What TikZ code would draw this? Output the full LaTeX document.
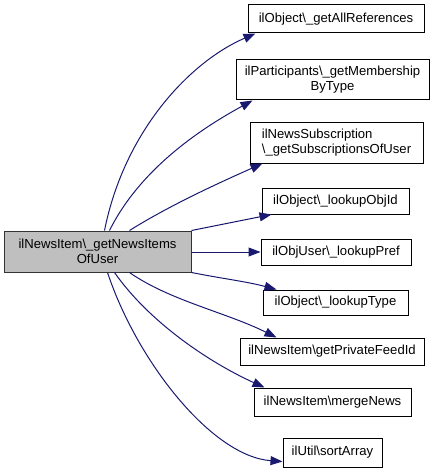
\documentclass[tikz,border=0pt]{standalone}
\usepackage{fontspec}
\setmainfont{Liberation Sans}
\usetikzlibrary{arrows.meta}
\definecolor{edgeblue}{HTML}{191970}
\definecolor{mainfill}{HTML}{BFBFBF}
\newcommand{\bs}{\textbackslash}
\begin{document}
\begin{tikzpicture}[x=1pt,y=-1pt,
  box/.style={draw=black,line width=1pt,inner sep=2pt,font=\fontsize{13.1}{15}\selectfont,align=center},
  edge/.style={draw=edgeblue,line width=1pt,-{Triangle[length=12pt,width=9pt]}}]
\useasboundingbox (0,0) rectangle (440,473);
\node[box,fill=mainfill,draw=black!80,minimum width=187pt,minimum height=41pt] (main) at (97.5,251.5) {ilNewsItem\bs\_getNewsItems\\OfUser};
\node[box,minimum width=176pt,minimum height=28pt] (t1) at (336,19) {ilObject\bs\_getAllReferences};
\node[box,minimum width=193pt,minimum height=40pt] (t2) at (332.5,80) {ilParticipants\bs\_getMembership\\ByType};
\node[box,align=left,minimum width=173pt,minimum height=40pt] (t3) at (336.5,143) {ilNewsSubscription\\\bs\_getSubscriptionsOfUser};
\node[box,minimum width=147pt,minimum height=26pt] (t4) at (335.5,201) {ilObject\bs\_lookupObjId};
\node[box,minimum width=150pt,minimum height=26pt] (t5) at (336,252) {ilObjUser\bs\_lookupPref};
\node[box,minimum width=145pt,minimum height=25pt] (t6) at (335.5,302.5) {ilObject\bs\_lookupType};
\node[box,minimum width=184pt,minimum height=27pt] (t7) at (332,351.5) {ilNewsItem\bs getPrivateFeedId};
\node[box,minimum width=157pt,minimum height=28pt] (t8) at (332.5,402) {ilNewsItem\bs mergeNews};
\node[box,minimum width=99pt,minimum height=29pt] (t9) at (332.5,452.5) {ilUtil\bs sortArray};
% edges
\draw[edge] ([xshift=101pt]main.north west) .. controls +(20,-100) and +(-65,28) .. ([xshift=8pt]t1.south west);
\draw[edge] ([xshift=106pt]main.north west) .. controls +(30,-60) and +(-55,30) .. ([xshift=17pt]t2.south west);
\draw[edge] ([xshift=126pt]main.north west) .. controls +(40,-25) and +(-45,20) .. ([xshift=13pt]t3.south west);
\draw[edge] (main.north east) .. controls +(30,-6) and +(-30,6) .. ([xshift=10pt]t4.south west);
\draw[edge] (main.east |- t5.west) -- (t5.west);
\draw[edge] (main.south east) .. controls +(30,6) and +(-30,-8) .. ([xshift=14pt]t6.north west);
\draw[edge] ([xshift=126pt]main.south west) .. controls +(40,28) and +(-50,-25) .. ([xshift=37pt]t7.north west);
\draw[edge] ([xshift=111pt]main.south west) .. controls +(35,50) and +(-55,-25) .. ([xshift=11pt]t8.north west);
\draw[edge] ([xshift=104pt]main.south west) .. controls +(30,90) and +(-70,-5) .. ([yshift=-9pt]t9.west);
\end{tikzpicture}
\end{document}
